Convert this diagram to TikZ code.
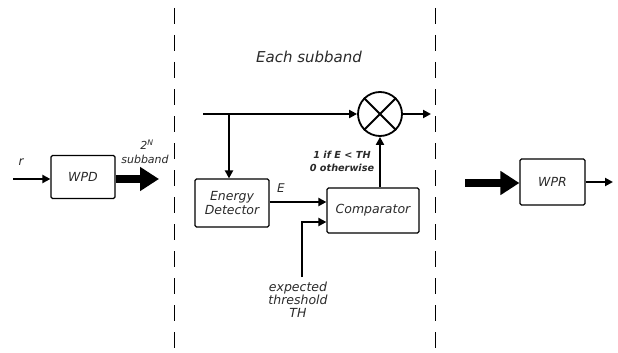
\documentclass[tikz,border=0pt]{standalone}
\usepackage{fontspec}
\setmainfont{DejaVu Sans}
\usetikzlibrary{arrows.meta}
\definecolor{txt}{HTML}{2A2A2A}
\begin{document}
\begin{tikzpicture}[x=1pt,y=-1pt,
  blk/.style={draw,line width=1.2pt,rounded corners=1.5pt,text=txt,font=\itshape\fontsize{12.5}{14.5}\selectfont,align=center,inner sep=0pt},
  wire/.style={line width=2pt},
  arr/.style={wire,-{Triangle[length=8pt,width=8pt]}},
  fat/.style={line width=8.5pt,-{Triangle[length=19pt,width=23pt]}},
  lbl/.style={text=txt,font=\itshape\fontsize{11}{13}\selectfont,align=center,inner sep=0pt},
  sep/.style={line width=1pt,dash pattern=on 16pt off 11pt}]
\useasboundingbox (0,0) rectangle (618,353);
% separators
\coordinate (s1t) at (174,8); \coordinate (s1b) at (174,353);
\coordinate (s2t) at (435,8); \coordinate (s2b) at (435,353);
\draw[sep] (s1t) -- (s1b);
\draw[sep] (s2t) -- (s2b);
\node[text=txt,font=\itshape\fontsize{15}{17}\selectfont] (title) at (309,57) {Each subband};
% left part
\node[blk,minimum width=64pt,minimum height=43pt] (wpd) at (83,177) {WPD};
\coordinate (rin) at (13,179);
\draw[arr] (rin) -- (wpd.west |- rin);
\node[lbl,font=\itshape\fontsize{12}{14}\selectfont] (r) at (21,162) {r};
\coordinate (sbout) at (159,179);
\draw[fat] (wpd.east |- sbout) -- (sbout);
\node[lbl] (twon) at (147,145) {2\textsuperscript{N}};
\node[lbl] (sb) at (145,159) {subband};
% middle
\node[circle,draw,line width=1.8pt,minimum size=44pt,inner sep=0pt] (mul) at (380,114) {};
\draw[line width=1.8pt] (mul.north west) -- (mul.south east);
\draw[line width=1.8pt] (mul.north east) -- (mul.south west);
\coordinate (tin) at (203,114);
\coordinate (br) at (229,114);
\draw[arr] (tin) -- (mul.west);
\coordinate (mout) at (431,114);
\draw[arr] (mul.east) -- (mout);
\node[blk,minimum width=74pt,minimum height=48pt] (ed) at (232,203) {Energy\\Detector};
\draw[arr] (br) -- (br |- ed.north);
\node[blk,minimum width=92pt,minimum height=45pt] (cmp) at (373,210.5) {Comparator};
\coordinate (ey) at (0,202);
\draw[arr] (ed.east |- ey) -- (cmp.west |- ey);
\node[lbl,font=\itshape\fontsize{12}{14}\selectfont] (E) at (281,188) {E};
\draw[arr] (cmp.north -| mul) -- (mul.south);
\node[lbl,font=\bfseries\itshape\fontsize{9.7}{13}\selectfont] (cond) at (342,161) {1 if E < TH\\0 otherwise};
\coordinate (thb) at (302,277);
\coordinate (thc) at (302,222);
\draw[wire,-{Triangle[length=8pt,width=8pt]}] (thb) -- (thc) -- (cmp.west |- thc);
\node[lbl,font=\itshape\fontsize{12.5}{13}\selectfont] (th) at (298,300) {expected\\threshold\\TH};
% right part
\node[blk,minimum width=65pt,minimum height=46pt] (wpr) at (552.5,182) {WPR};
\coordinate (fin) at (465,183);
\draw[fat] (fin) -- (wpr.west |- fin);
\coordinate (wout) at (613,182);
\draw[arr] (wpr.east |- wout) -- (wout);
\end{tikzpicture}
\end{document}
